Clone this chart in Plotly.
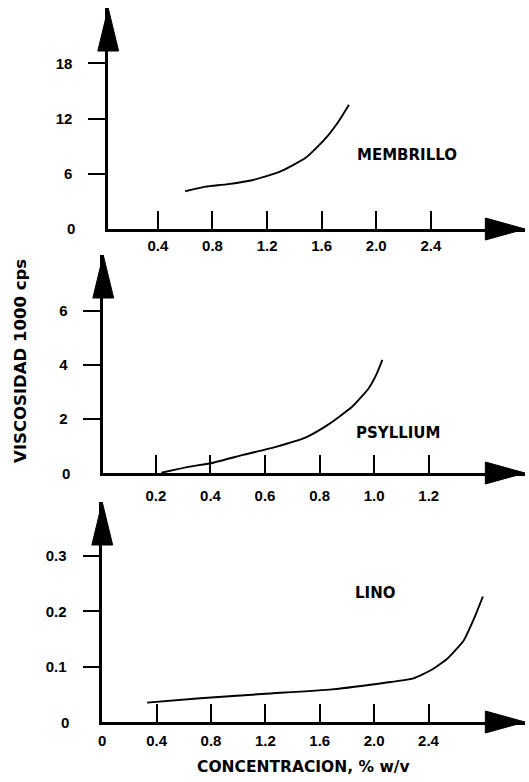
import plotly.graph_objects as go

# Viscosity (thousands of cps) vs concentration (% w/v) for three mucilages
membrillo_x = [0.60, 0.75, 0.90, 1.09, 1.29, 1.48, 1.62, 1.72, 1.80]
membrillo_y = [4.1, 4.6, 4.85, 5.3, 6.2, 7.7, 9.7, 11.6, 13.5]

psyllium_x = [0.22, 0.31, 0.41, 0.52, 0.64, 0.75, 0.83, 0.92, 0.98, 1.01, 1.03]
psyllium_y = [0.01, 0.21, 0.38, 0.67, 0.97, 1.32, 1.78, 2.46, 3.14, 3.69, 4.19]

lino_x = [0.33, 0.72, 1.20, 1.69, 2.08, 2.29, 2.42, 2.54, 2.66, 2.74, 2.80]
lino_y = [0.035, 0.043, 0.051, 0.059, 0.071, 0.079, 0.094, 0.115, 0.148, 0.19, 0.227]

top_xticks = [0.4, 0.8, 1.2, 1.6, 2.0, 2.4]
top_yticks = [6, 12, 18]
mid_xticks = [0.2, 0.4, 0.6, 0.8, 1.0, 1.2]
mid_yticks = [2, 4, 6]
bot_xticks = [0, 0.4, 0.8, 1.2, 1.6, 2.0, 2.4]
bot_yticks = [0.1, 0.2, 0.3]

W, H = 529, 782
TICK_FONT = "Liberation Sans"
TEXT_FONT = "DejaVu Sans"
INK = "black"

def px_x(p):
    return p / W

def px_y(p):
    return 1 - p / H

# panel geometry in pixels: left axis x, right arrow tip x, bottom axis y, top arrow tip y
panels = [
    dict(left=105, right=525, bottom=229, top=8, xr=[0.036, 3.09], yr=[0, 24.0],
         xt=top_xticks, yt=top_yticks, yfmt="d", xstand=1,
         x=membrillo_x, y=membrillo_y, label="MEMBRILLO", lab_x=354, lab_y=155),
    dict(left=100, right=525, bottom=473, top=255, xr=[0.007, 1.553], yr=[0, 8.07],
         xt=mid_xticks, yt=mid_yticks, yfmt="d", xstand=7,
         x=psyllium_x, y=psyllium_y, label="PSYLLIUM", lab_x=353, lab_y=433),
    dict(left=99, right=525, bottom=722, top=502, xr=[0.0, 3.11], yr=[0, 0.398],
         xt=bot_xticks, yt=bot_yticks, yfmt=".1f", xstand=3,
         x=lino_x, y=lino_y, label="LINO", lab_x=352, lab_y=593),
]

fig = go.Figure()
shapes = []
annotations = []
tickfont = dict(family=TICK_FONT, size=15, color=INK, weight="bold")
textfont = dict(family=TEXT_FONT, size=15, color=INK, weight="bold")

for i, p in enumerate(panels, start=1):
    sx = "" if i == 1 else str(i)
    fig.add_trace(go.Scatter(
        x=p["x"], y=p["y"], mode="lines",
        line=dict(color=INK, width=1.9, shape="spline", smoothing=0.5),
        xaxis="x" + sx, yaxis="y" + sx, showlegend=False, hoverinfo="skip",
    ))
    xt_text = ["0" if v == 0 else f"{v:.1f}" for v in p["xt"]]
    yt_text = [format(v, p["yfmt"]) for v in p["yt"]]
    fig.layout["xaxis" + sx] = dict(
        domain=[px_x(p["left"]), px_x(p["right"])], range=p["xr"],
        anchor="y" + sx, showgrid=False, zeroline=False,
        showline=True, linecolor=INK, linewidth=2.5,
        ticks="inside", ticklen=18, tickwidth=2, tickcolor=INK,
        tickvals=p["xt"], ticktext=xt_text, tickfont=tickfont,
        ticklabelstandoff=p["xstand"],
    )
    fig.layout["yaxis" + sx] = dict(
        domain=[px_y(p["bottom"]), px_y(p["top"])], range=p["yr"],
        anchor="x" + sx, showgrid=False, zeroline=False,
        showline=True, linecolor=INK, linewidth=2.5,
        ticks="outside", ticklen=17, tickwidth=2, tickcolor=INK,
        tickvals=p["yt"], ticktext=yt_text, tickfont=tickfont,
        ticklabelstandoff=13,
    )
    # "0" at the origin of the value axis
    annotations.append(dict(
        x=px_x(p["left"] - 31), y=0, xref="paper", yref="y" + sx,
        text="0", showarrow=False, xanchor="right", yanchor="middle",
        font=tickfont,
    ))
    # panel name
    annotations.append(dict(
        x=px_x(p["lab_x"]), y=px_y(p["lab_y"]), xref="paper", yref="paper",
        text=p["label"], showarrow=False, xanchor="left", yanchor="middle",
        font=textfont,
    ))
    # arrow heads on both axes
    ax, tip_y = p["left"], p["top"]
    vpath = (f"M {px_x(ax - 10.5)} {px_y(tip_y + 43)} "
             f"L {px_x(ax)} {px_y(tip_y)} "
             f"L {px_x(ax + 10.5)} {px_y(tip_y + 43)} Z")
    ay, tip_x = p["bottom"], p["right"]
    hpath = (f"M {px_x(tip_x - 40)} {px_y(ay - 11)} "
             f"L {px_x(tip_x)} {px_y(ay)} "
             f"L {px_x(tip_x - 40)} {px_y(ay + 11)} Z")
    for path in (vpath, hpath):
        shapes.append(dict(type="path", path=path, xref="paper", yref="paper",
                           fillcolor=INK, line=dict(color=INK, width=1)))

annotations.append(dict(
    x=px_x(16), y=px_y(361), xref="paper", yref="paper",
    text="VISCOSIDAD 1000 cps", textangle=-90, showarrow=False,
    xanchor="center", yanchor="middle",
    font=dict(family=TEXT_FONT, size=16.5, color=INK, weight="bold"),
))
annotations.append(dict(
    x=px_x(302), y=px_y(767), xref="paper", yref="paper",
    text="CONCENTRACION, % w/v", showarrow=False,
    xanchor="center", yanchor="middle",
    font=dict(family=TEXT_FONT, size=15.5, color=INK, weight="bold"),
))

fig.update_layout(
    width=W, height=H,
    margin=dict(l=0, r=0, t=0, b=0),
    paper_bgcolor="white", plot_bgcolor="white",
    shapes=shapes, annotations=annotations,
    showlegend=False,
)

fig.write_html("out.html")
